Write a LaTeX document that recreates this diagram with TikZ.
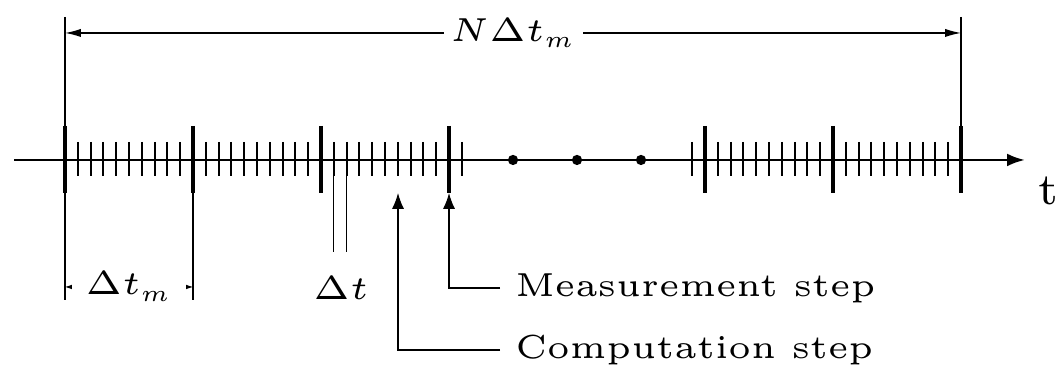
\RequirePackage{fix-cm}
\documentclass[tikz,border=0pt]{standalone}
\usepackage{tikz}
\usetikzlibrary{arrows.meta,positioning}
\DeclareMathSizes{5.2}{5.2}{3.6}{2.6}

\begin{document}
\begin{tikzpicture}[
    x=0.0055cm, y=-0.0055cm,
    font=\fontsize{5.2}{6}\selectfont,
    timeaxis/.style={line width=0.42pt, -{Latex[length=2.8pt, width=2pt]}},
    major/.style={line width=0.7pt},
    minor/.style={line width=0.32pt},
    thinline/.style={line width=0.2pt},
    dimline/.style={line width=0.2pt, {Latex[length=2.5pt, width=1.3pt]}-{Latex[length=2.5pt, width=1.3pt]}},
    smalldim/.style={line width=0.2pt, {Latex[length=1.8pt, width=1.4pt]}-{Latex[length=1.8pt, width=1.4pt]}},
    pointer/.style={line width=0.2pt, -{Latex[length=2.5pt, width=1.9pt]}},
    dimlabel/.style={fill=white, inner sep=1pt},
    steptext/.style={anchor=west, inner sep=2.2pt}
]
\useasboundingbox (0,0) rectangle (1059,373);

% Time axis
\coordinate (t0) at (14,160);
\coordinate (tend) at (1025,160);
\draw[timeaxis] (t0) -- (tend);
\node[font=\fontsize{7}{8}\selectfont] (tlab) at (1048,191) {t};

% Measurement steps (thick) and computation steps (thin)
\foreach \i in {0,1,2,3,5,6,7}
  \draw[major] (65+128*\i,126) -- (65+128*\i,193);
\foreach \i in {0,1,2,5,6}
  \foreach \j in {1,...,9}
    \draw[minor] (65+128*\i+12.8*\j,142) -- (65+128*\i+12.8*\j,176);
\draw[minor] (461.8,142) -- (461.8,176);
\draw[minor] (692.2,142) -- (692.2,176);

% Dots
\foreach \x in {513,577,641}
  \fill (\x,160) circle[radius=0.8pt];

% Extension lines
\draw[thinline] (65,17) -- (65,300);
\draw[thinline] (193,193) -- (193,300);
\draw[thinline] (961,17) -- (961,126);
\draw[thinline] (333.8,176) -- (333.8,252);
\draw[thinline] (346.6,176) -- (346.6,252);

% Dimensions
\coordinate (top0) at (65,33);
\coordinate (top7) at (961,33);
\draw[dimline] (top0) -- node[dimlabel] (ntot) {$N\Delta t_m$} (top7);
\coordinate (bot0) at (65,287);
\coordinate (bot1) at (193,287);
\draw[smalldim] (bot0) -- node[dimlabel, inner sep=2.2pt] (dtm) {$\Delta t_m$} (bot1);
\node (dt) at (341,288) {$\Delta t$};

% Step labels
\coordinate (mtip) at (449,193);
\coordinate (ctip) at (398,193);
\node[steptext] (meas) at (500,288) {Measurement step};
\node[steptext] (comp) at (500,350) {Computation step};
\draw[pointer] (meas.west) -| (mtip);
\draw[pointer] (comp.west) -| (ctip);

\end{tikzpicture}
\end{document}
